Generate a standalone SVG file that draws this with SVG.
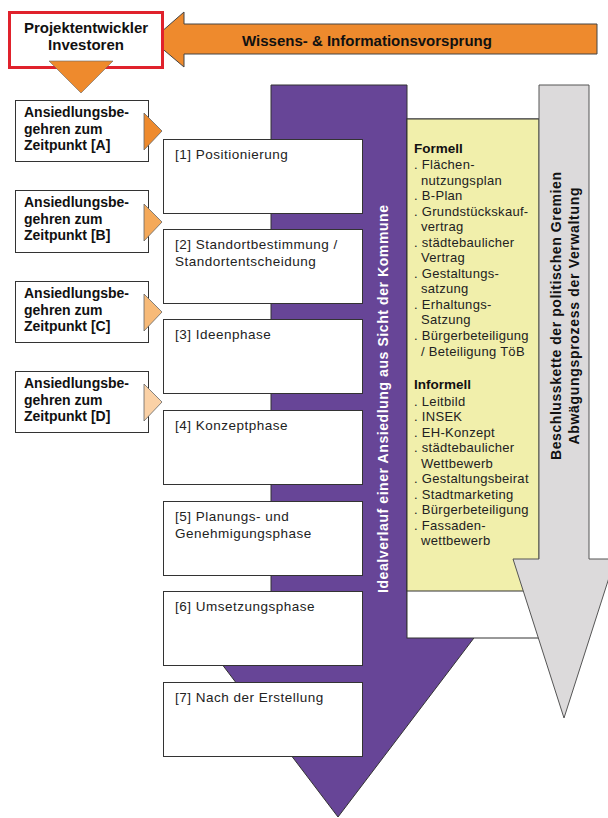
<svg xmlns="http://www.w3.org/2000/svg" width="608" height="818" viewBox="0 0 608 818">
<style>
.bx{fill:#fff;stroke:#333;stroke-width:1}
.lt{font-family:"Liberation Sans",Arial,sans-serif;font-size:14px;font-weight:bold;fill:#111}
.ph{font-family:"Liberation Sans",Arial,sans-serif;font-size:13.5px;letter-spacing:0.5px;fill:#222}
.yl{font-family:"Liberation Sans",Arial,sans-serif;font-size:13px;letter-spacing:0.3px;fill:#222}
.yb{font-family:"Liberation Sans",Arial,sans-serif;font-size:13.5px;font-weight:bold;fill:#111}
.tri{stroke:#666;stroke-width:0.8}
</style>
<rect width="608" height="818" fill="#fff"/>
<g id="connectors">
  <g id="purple-arrow">
    <polygon points="271,85 407,85 407,630 480,630 338,817 196,630 271,630" fill="#674597" stroke="#333" stroke-width="1"/>
  </g>
  <g id="instruments">
    <rect x="407" y="119" width="132" height="519" fill="#fff" stroke="#333" stroke-width="1"/>
    <rect x="407" y="119" width="132" height="472" fill="#F1EFAB" stroke="#333" stroke-width="1"/>
    <text class="yb" x="414" y="153">Formell</text>
    <text class="yl" x="414" y="169">. Flächen-</text>
    <text class="yl" x="421" y="184.5">nutzungsplan</text>
    <text class="yl" x="414" y="200">. B-Plan</text>
    <text class="yl" x="414" y="216">. Grundstückskauf-</text>
    <text class="yl" x="421" y="231">vertrag</text>
    <text class="yl" x="414" y="247">. städtebaulicher</text>
    <text class="yl" x="421" y="262">Vertrag</text>
    <text class="yl" x="414" y="278">. Gestaltungs-</text>
    <text class="yl" x="421" y="293">satzung</text>
    <text class="yl" x="414" y="309">. Erhaltungs-</text>
    <text class="yl" x="421" y="324">Satzung</text>
    <text class="yl" x="414" y="340">. Bürgerbeteiligung</text>
    <text class="yl" x="421" y="356">/ Beteiligung TöB</text>
    <text class="yb" x="414" y="389">Informell</text>
    <text class="yl" x="414" y="406">. Leitbild</text>
    <text class="yl" x="414" y="421">. INSEK</text>
    <text class="yl" x="414" y="437">. EH-Konzept</text>
    <text class="yl" x="414" y="452">. städtebaulicher</text>
    <text class="yl" x="421" y="468">Wettbewerb</text>
    <text class="yl" x="414" y="483">. Gestaltungsbeirat</text>
    <text class="yl" x="414" y="499">. Stadtmarketing</text>
    <text class="yl" x="414" y="514">. Bürgerbeteiligung</text>
    <text class="yl" x="414" y="530">. Fassaden-</text>
    <text class="yl" x="421" y="545">wettbewerb</text>
  </g>
  <g id="grey-arrow">
    <polygon points="539,85 589,85 589,559 615,559 564,718 513,559 539,559" fill="#DCDADB" stroke="#555" stroke-width="1"/>
    <text class="lt" transform="translate(561,316) rotate(-90)" text-anchor="middle" textLength="288" lengthAdjust="spacing">Beschlusskette der politischen Gremien</text>
    <text class="lt" transform="translate(579,316) rotate(-90)" text-anchor="middle" textLength="257" lengthAdjust="spacing">Abwägungsprozess der Verwaltung</text>
  </g>
  <g id="orange-arrow">
    <polygon points="152,40 184,12 184,24 597,24 597,54 184,54 184,67" fill="#EE8A2D" stroke="#444" stroke-width="1"/>
    <text x="367" y="46" text-anchor="middle" font-family="'Liberation Sans',Arial,sans-serif" font-size="15" font-weight="bold" fill="#111">Wissens- &amp; Informationsvorsprung</text>
  </g>
</g>
<g id="investoren">
  <rect x="9.5" y="12.5" width="153" height="55" fill="#fff" stroke="#E0222C" stroke-width="3"/>
  <text x="86" y="33" text-anchor="middle" font-family="'Liberation Sans',Arial,sans-serif" font-size="15" font-weight="bold" fill="#111">Projektentwickler</text>
  <text x="86" y="50" text-anchor="middle" font-family="'Liberation Sans',Arial,sans-serif" font-size="15" font-weight="bold" fill="#111">Investoren</text>
  <polygon points="49,61 113,61 81,93" fill="#EE8A2D" stroke="#666" stroke-width="0.6"/>
</g>
<g id="purple-label">
  <text transform="translate(388,399) rotate(-90)" text-anchor="middle" font-family="'Liberation Sans',Arial,sans-serif" font-size="14" font-weight="bold" fill="#fff" textLength="388" lengthAdjust="spacing">Idealverlauf einer Ansiedlung aus Sicht der Kommune</text>
</g>
<g id="zeitpunkt-a">
  <rect class="bx" x="15.5" y="100.5" width="133" height="61"/>
  <text class="lt" x="24" y="117">Ansiedlungsbe-</text>
  <text class="lt" x="24" y="134">gehren zum</text>
  <text class="lt" x="24" y="150">Zeitpunkt [A]</text>
  <polygon class="tri" points="144,113 162,131 144,150" fill="#EE8A2D"/>
</g>
<g id="zeitpunkt-b">
  <rect class="bx" x="15.5" y="190.5" width="133" height="62"/>
  <text class="lt" x="24" y="207">Ansiedlungsbe-</text>
  <text class="lt" x="24" y="224">gehren zum</text>
  <text class="lt" x="24" y="240">Zeitpunkt [B]</text>
  <polygon class="tri" points="144,204 162,222 144,241" fill="#F4A95A"/>
</g>
<g id="zeitpunkt-c">
  <rect class="bx" x="15.5" y="281.5" width="133" height="61"/>
  <text class="lt" x="24" y="298">Ansiedlungsbe-</text>
  <text class="lt" x="24" y="315">gehren zum</text>
  <text class="lt" x="24" y="331">Zeitpunkt [C]</text>
  <polygon class="tri" points="144,294 162,312 144,331" fill="#F7BA78"/>
</g>
<g id="zeitpunkt-d">
  <rect class="bx" x="15.5" y="371.5" width="133" height="61"/>
  <text class="lt" x="24" y="388">Ansiedlungsbe-</text>
  <text class="lt" x="24" y="405">gehren zum</text>
  <text class="lt" x="24" y="421">Zeitpunkt [D]</text>
  <polygon class="tri" points="144,384 162,402 144,421" fill="#FAD1A6"/>
</g>
<g id="phase-1">
  <rect class="bx" x="163.5" y="139.5" width="199" height="74"/>
  <text class="ph" x="175" y="159">[1] Positionierung</text>
</g>
<g id="phase-2">
  <rect class="bx" x="163.5" y="229.5" width="199" height="74"/>
  <text class="ph" x="175" y="249">[2] Standortbestimmung /</text>
  <text class="ph" x="175" y="266">Standortentscheidung</text>
</g>
<g id="phase-3">
  <rect class="bx" x="163.5" y="319.5" width="199" height="74"/>
  <text class="ph" x="175" y="339">[3] Ideenphase</text>
</g>
<g id="phase-4">
  <rect class="bx" x="163.5" y="410.5" width="199" height="74"/>
  <text class="ph" x="175" y="430">[4] Konzeptphase</text>
</g>
<g id="phase-5">
  <rect class="bx" x="163.5" y="501.5" width="199" height="74"/>
  <text class="ph" x="175" y="521">[5] Planungs- und</text>
  <text class="ph" x="175" y="538">Genehmigungsphase</text>
</g>
<g id="phase-6">
  <rect class="bx" x="163.5" y="591.5" width="199" height="74"/>
  <text class="ph" x="175" y="611">[6] Umsetzungsphase</text>
</g>
<g id="phase-7">
  <rect class="bx" x="163.5" y="682.5" width="199" height="74"/>
  <text class="ph" x="175" y="702">[7] Nach der Erstellung</text>
</g>
</svg>
